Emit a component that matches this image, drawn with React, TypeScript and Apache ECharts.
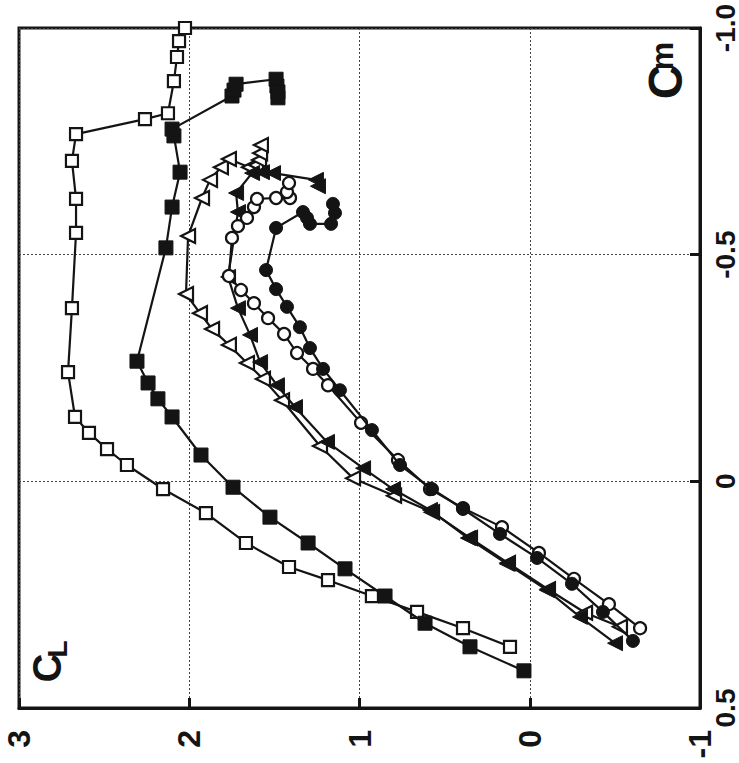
import React, { useEffect, useRef } from "react";
import * as echarts from "echarts";

// Tick labels
const clTickValues = [3, 2, 1, 0, -1];
const clTickLabels = ["3", "2", "1", "0", "-1"];
const cmTickValues = [-1, -0.5, 0, 0.5];
const cmTickLabels = ["-1.0", "-0.5", "0", "0.5"];

// Open squares
const openSquareCL = [0.116, 0.392, 0.662, 0.927, 1.185, 1.414, 1.667, 1.902, 2.154, 2.366, 2.483, 2.589, 2.671, 2.712, 2.689, 2.665, 2.665, 2.689, 2.665, 2.26, 2.125, 2.09, 2.072, 2.06, 2.025];
const openSquareCm = [0.365, 0.324, 0.288, 0.253, 0.218, 0.189, 0.136, 0.07, 0.017, -0.036, -0.071, -0.107, -0.142, -0.241, -0.382, -0.548, -0.623, -0.707, -0.766, -0.799, -0.812, -0.883, -0.936, -0.971, -1.0];

// Filled squares
const filledSquareCL = [0.034, 0.351, 0.615, 0.85, 1.085, 1.302, 1.526, 1.743, 1.931, 2.101, 2.184, 2.242, 2.307, 2.137, 2.101, 2.054, 2.09, 2.101, 1.749, 1.737, 1.725, 1.49, 1.485, 1.479, 1.479];
const filledSquareCm = [0.418, 0.365, 0.313, 0.253, 0.193, 0.136, 0.079, 0.013, -0.058, -0.142, -0.182, -0.217, -0.265, -0.515, -0.605, -0.682, -0.762, -0.777, -0.85, -0.863, -0.876, -0.887, -0.872, -0.859, -0.846];

// Open triangles
const openTriangleCL = [-0.53, -0.325, -0.107, 0.128, 0.351, 0.574, 0.797, 1.038, 1.232, 1.455, 1.567, 1.661, 1.767, 1.866, 1.937, 2.019, 2.007, 1.925, 1.878, 1.814, 1.767, 1.649, 1.608, 1.59, 1.584, 1.579];
const openTriangleCm = [0.321, 0.29, 0.238, 0.18, 0.125, 0.068, 0.032, -0.007, -0.078, -0.179, -0.226, -0.261, -0.301, -0.336, -0.371, -0.413, -0.541, -0.625, -0.665, -0.693, -0.711, -0.693, -0.698, -0.709, -0.724, -0.742];

// Filled triangles
const filledTriangleCL = [-0.501, -0.295, -0.101, 0.134, 0.363, 0.586, 0.803, 0.979, 1.191, 1.379, 1.485, 1.584, 1.643, 1.714, 1.772, 1.714, 1.725, 1.631, 1.573, 1.508, 1.256, 1.244];
const filledTriangleCm = [0.357, 0.299, 0.24, 0.182, 0.125, 0.063, 0.017, -0.029, -0.087, -0.164, -0.212, -0.263, -0.323, -0.382, -0.451, -0.594, -0.636, -0.68, -0.682, -0.68, -0.665, -0.651];

// Open circles
const openCircleCL = [-0.648, -0.465, -0.26, -0.054, 0.163, 0.392, 0.586, 0.774, 0.991, 1.185, 1.273, 1.367, 1.443, 1.537, 1.62, 1.696, 1.767, 1.749, 1.714, 1.661, 1.62, 1.602, 1.49, 1.408, 1.426, 1.414];
const openCircleCm = [0.324, 0.271, 0.215, 0.158, 0.101, 0.059, 0.017, -0.047, -0.129, -0.212, -0.248, -0.283, -0.325, -0.36, -0.393, -0.422, -0.453, -0.537, -0.563, -0.581, -0.605, -0.623, -0.625, -0.625, -0.638, -0.658];

// Filled circles
const filledCircleCL = [-0.606, -0.43, -0.248, -0.043, 0.175, 0.392, 0.574, 0.762, 0.927, 1.115, 1.214, 1.291, 1.35, 1.426, 1.49, 1.549, 1.49, 1.332, 1.308, 1.291, 1.167, 1.144, 1.156];
const filledCircleCm = [0.352, 0.288, 0.226, 0.169, 0.116, 0.061, 0.017, -0.036, -0.113, -0.201, -0.248, -0.294, -0.34, -0.385, -0.424, -0.466, -0.559, -0.594, -0.581, -0.568, -0.568, -0.592, -0.612];

const zip = (a: number[], b: number[]) => a.map((v, i) => [v, b[i]]);

const INK = "#141414";
const FONT = "'Liberation Sans', Arial, Helvetica, sans-serif";

function makeSeries(name: string, cl: number[], cm: number[], symbol: string, size: number, filled: boolean, z: number) {
  return {
    name,
    type: "line",
    data: zip(cl, cm),
    symbol,
    symbolSize: size,
    symbolRotate: symbol === "triangle" ? 90 : 0,
    showSymbol: true,
    showAllSymbol: true,
    z,
    lineStyle: { color: INK, width: 2.2 },
    itemStyle: { color: filled ? INK : "#ffffff", borderColor: INK, borderWidth: filled ? 1 : 2.2, opacity: 1 },
    emphasis: { disabled: true },
    silent: true,
  };
}

export default function App() {
  const ref = useRef<HTMLDivElement>(null);
  useEffect(() => {
    if (!ref.current) return;
    const chart = echarts.init(ref.current, null, { renderer: "svg" });
    const option: any = {
      animation: false,
      backgroundColor: "#ffffff",
      grid: {
        left: 19,
        right: 39,
        top: 28,
        bottom: 55,
        show: true,
        borderColor: INK,
        borderWidth: 3,
        backgroundColor: "transparent",
        outerBoundsMode: "none",
      },
      xAxis: {
        type: "value",
        min: -1,
        max: 3,
        interval: 1,
        inverse: true,
        position: "bottom",
        axisLine: { show: true, onZero: false, lineStyle: { color: INK, width: 3 } },
        axisTick: { show: true, inside: true, length: 10, lineStyle: { color: INK, width: 3 } },
        splitLine: { show: true, lineStyle: { color: "#444", width: 1, type: [2, 2] } },
        axisLabel: {
          rotate: 90,
          margin: 22,
          color: INK,
          fontSize: 32,
          fontWeight: "bold",
          fontFamily: FONT,
          padding: [12, 0, 0, 0],
          formatter: (v: number) => {
            const i = clTickValues.indexOf(v);
            return i >= 0 ? clTickLabels[i] : "";
          },
        },
      },
      yAxis: {
        type: "value",
        min: -1,
        max: 0.5,
        interval: 0.5,
        inverse: true,
        position: "right",
        axisLine: { show: true, onZero: false, lineStyle: { color: INK, width: 3 } },
        axisTick: { show: true, inside: true, length: 10, lineStyle: { color: INK, width: 3 } },
        splitLine: { show: true, lineStyle: { color: "#444", width: 1, type: [2, 2] } },
        axisLabel: {
          rotate: 90,
          margin: 11,
          color: INK,
          fontSize: 28,
          fontWeight: "bold",
          fontFamily: FONT,
          formatter: (v: number) => {
            const i = cmTickValues.indexOf(v);
            return i >= 0 ? cmTickLabels[i] : "";
          },
        },
      },
      graphic: [
        { type: "text", x: 47, y: 668, rotation: Math.PI / 2, style: { text: "C", fill: INK, fontSize: 40, fontWeight: "bold", fontFamily: FONT, align: "center", verticalAlign: "middle" } },
        { type: "text", x: 57, y: 649, rotation: Math.PI / 2, style: { text: "L", fill: INK, fontSize: 28, fontWeight: "bold", fontFamily: FONT, align: "center", verticalAlign: "middle" } },
        { type: "text", x: 665, y: 82, rotation: Math.PI / 2, style: { text: "C", fill: INK, fontSize: 48, fontWeight: "bold", fontFamily: FONT, align: "center", verticalAlign: "middle" } },
        { type: "text", x: 662, y: 56, rotation: Math.PI / 2, style: { text: "m", fill: INK, fontSize: 32, fontWeight: "bold", fontFamily: FONT, align: "center", verticalAlign: "middle" } },
      ],
      series: [
        makeSeries("open squares", openSquareCL, openSquareCm, "rect", 12, false, 2),
        makeSeries("filled squares", filledSquareCL, filledSquareCm, "rect", 14, true, 3),
        makeSeries("open triangles", openTriangleCL, openTriangleCm, "triangle", 14, false, 4),
        makeSeries("filled triangles", filledTriangleCL, filledTriangleCm, "triangle", 15, true, 5),
        makeSeries("open circles", openCircleCL, openCircleCm, "circle", 12, false, 6),
        makeSeries("filled circles", filledCircleCL, filledCircleCm, "circle", 13, true, 7),
      ],
    };
    chart.setOption(option);
    return () => chart.dispose();
  }, []);
  return (
    <div
      ref={ref}
      style={{ position: "absolute", left: 0, top: 0, width: 739, height: 763, background: "#fff" }}
    />
  );
}
